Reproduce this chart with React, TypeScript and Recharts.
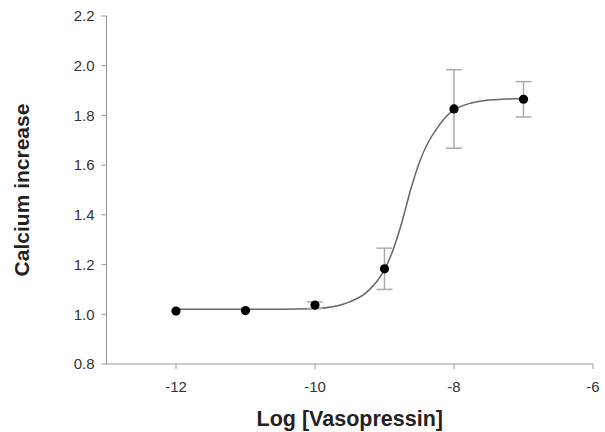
import {
  ComposedChart,
  ErrorBar,
  Line,
  Scatter,
  XAxis,
  YAxis,
} from "recharts";

// measured responses (mean ± error)
const logDose = [-12, -11, -10, -9, -8, -7];
const response = [1.013, 1.015, 1.037, 1.183, 1.826, 1.865];
const errors = [0, 0, 0.013, 0.083, 0.158, 0.071];

// fitted curve
const curveX = [
  -12, -11, -10.5, -10, -9.75, -9.5, -9.25, -9, -8.875, -8.75, -8.625, -8.5,
  -8.375, -8.25, -8.125, -8, -7.75, -7.5, -7.25, -7,
];
const curveY = [
  1.02, 1.02, 1.02, 1.022, 1.03, 1.05, 1.09, 1.18, 1.26, 1.37, 1.5, 1.61,
  1.69, 1.746, 1.792, 1.822, 1.85, 1.862, 1.866, 1.868,
];

const xTicks = [-12, -10, -8, -6];
const yTicks = [0.8, 1.0, 1.2, 1.4, 1.6, 1.8, 2.0, 2.2];

const points = logDose.map((x, i) => ({ x, y: response[i], err: errors[i] }));
const curve = curveX.map((x, i) => ({ x, y: curveY[i] }));

const axisColor = "#999";
const font = "Arial, 'Liberation Sans', sans-serif";

function Dot(props: any) {
  const { cx, cy } = props;
  if (cx == null || cy == null) return null;
  return <circle cx={cx} cy={cy} r={4.6} fill="#000" />;
}

export default function App() {
  return (
    <div style={{ position: "absolute", left: 0, top: 0, background: "#fff", fontFamily: font }}>
      <ComposedChart
        width={605}
        height={432}
        margin={{ top: 16, right: 12, bottom: 0, left: 0 }}
      >
        <XAxis
          type="number"
          dataKey="x"
          domain={[-13, -6]}
          ticks={xTicks}
          allowDataOverflow
          height={68}
          stroke={axisColor}
          tickSize={5}
          tickMargin={12}
          tick={{ fill: "#333", fontSize: 15, fontFamily: font }}
          label={{
            value: "Log [Vasopressin]",
            position: "insideBottom",
            offset: 6,
            style: { fontSize: 21.5, fontWeight: "bold", fill: "#222", fontFamily: font },
          }}
        />
        <YAxis
          type="number"
          dataKey="y"
          domain={[0.8, 2.2]}
          ticks={yTicks}
          allowDataOverflow
          width={106.5}
          stroke={axisColor}
          tickSize={5}
          tickMargin={7}
          tickFormatter={(v) => Number(v).toFixed(1)}
          tick={{ fill: "#333", fontSize: 15, fontFamily: font }}
          label={{
            value: "Calcium increase",
            angle: -90,
            position: "insideLeft",
            offset: 22,
            style: { textAnchor: "middle", fontSize: 21, fontWeight: "bold", fill: "#222", fontFamily: font },
          }}
        />
        <Line
          data={curve}
          dataKey="y"
          type="monotone"
          stroke="#666"
          strokeWidth={1.5}
          dot={false}
          activeDot={false}
          isAnimationActive={false}
        />
        <Scatter data={points} dataKey="y" shape={Dot} isAnimationActive={false}>
          <ErrorBar dataKey="err" direction="y" width={8} stroke="#aaa" strokeWidth={1.5} />
        </Scatter>
      </ComposedChart>
    </div>
  );
}
